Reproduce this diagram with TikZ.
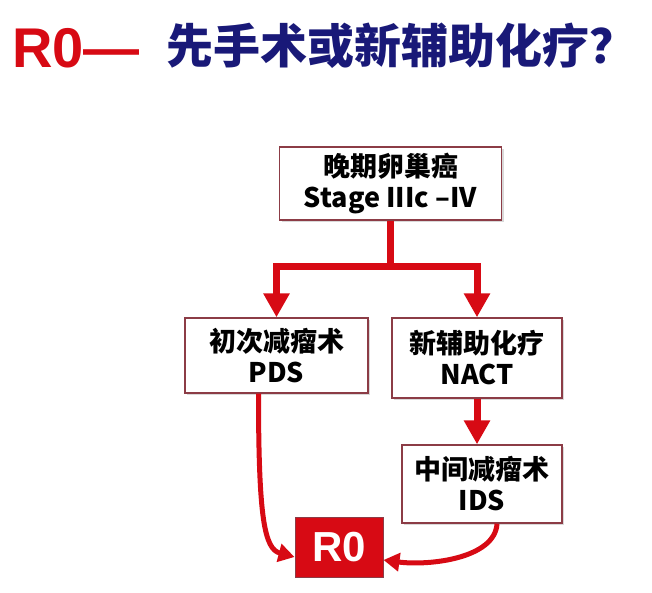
\documentclass[tikz,border=0pt]{standalone}
\usepackage{fontspec}
\usepackage{tikz}
\usetikzlibrary{arrows.meta,shadows}
\newfontfamily\cjk{Noto Sans CJK SC}
\newfontfamily\arialfont{Liberation Sans}
\definecolor{flowred}{RGB}{215,10,20}
\definecolor{boxline}{RGB}{140,60,70}
\definecolor{titlenavy}{RGB}{25,25,120}

\begin{document}
\begin{tikzpicture}[x=1pt,y=1pt,
  box/.style={draw=boxline, line width=1.4pt, fill=white, align=center, inner sep=0pt,
    font=\cjk\bfseries\fontsize{27}{31}\selectfont,
    drop shadow={shadow xshift=2pt, shadow yshift=-2pt, opacity=0.3}},
  redline/.style={draw=flowred, line width=7pt},
  redarrow/.style={redline, -{Triangle[width=25pt,length=24pt]}},
  curvearrow/.style={draw=flowred, line width=5pt, -{Triangle[width=18pt,length=16pt]}}]

\useasboundingbox (0,0) rectangle (652,-593);

\node [anchor=base west, inner sep=0pt, text=flowred] (titleR) at (12,-68) {\arialfont\bfseries\fontsize{56}{56}\selectfont R0—};
\node [anchor=base west, inner sep=0pt, text=titlenavy] (titleQ) at (166,-64) {\cjk\bfseries\fontsize{47}{47}\selectfont 先手术或新辅助化疗？};

\node [box, minimum width=222pt, minimum height=73pt] (stage) at (390.5,-183.5) {晚期卵巢癌\\Stage IIIc –IV};
\node [box, minimum width=183pt, minimum height=75pt] (pds) at (276.5,-355.5) {初次减瘤术\\PDS};
\node [box, minimum width=170pt, minimum height=80pt] (nact) at (477,-358) {新辅助化疗\\NACT};
\node [box, minimum width=160pt, minimum height=78pt] (ids) at (482,-484) {中间减瘤术\\IDS};
\node [draw=boxline, line width=1pt, fill=flowred, text=white, inner sep=0pt,
  minimum width=88pt, minimum height=60pt,
  font=\arialfont\bfseries\fontsize{42}{42}\selectfont] (r0) at (339,-547) {R0};

\coordinate (fork) at (390.5,-266);
\draw [redline] (stage.south) -- (fork);
\draw [redarrow] (fork) -| (pds.north);
\draw [redarrow] (fork) -| (nact.north);
\draw [redarrow] (nact.south) -- (nact.south |- ids.north);

\draw [curvearrow] ([xshift=-18pt]pds.south) .. controls +(0,-125) and +(-30,8) .. ([yshift=-10pt]r0.west);
\draw [curvearrow] ([xshift=15pt]ids.south) .. controls +(-2,-35) and +(45,-6) .. ([yshift=-13pt]r0.east);

\end{tikzpicture}
\end{document}
